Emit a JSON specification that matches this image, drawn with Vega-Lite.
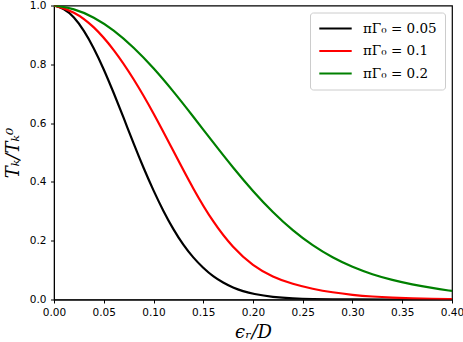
{
  "$schema": "https://vega.github.io/schema/vega-lite/v6.json",
  "autosize": "none",
  "width": 398,
  "height": 294,
  "padding": {"left": 54, "top": 5.5, "right": 11, "bottom": 42.5},
  "background": "white",
  "config": {
    "view": {"stroke": "black", "strokeWidth": 1.2},
    "axis": {"grid": false, "domainColor": "black", "tickColor": "black", "labelColor": "black", "labelFont": "DejaVu Sans", "labelFontSize": 10.5, "labelFlush": false, "labelOverlap": false, "tickSize": 3.5, "titleColor": "black", "titleFont": "DejaVu Serif", "titleFontStyle": "italic", "titleFontWeight": "normal", "titleFontSize": 18}
  },
  "data": {"values": [
    {"x": 0, "y": 1, "s": "πΓ₀ = 0.05"},
    {"x": 0.01, "y": 0.990, "s": "πΓ₀ = 0.05"},
    {"x": 0.02, "y": 0.962, "s": "πΓ₀ = 0.05"},
    {"x": 0.03, "y": 0.916, "s": "πΓ₀ = 0.05"},
    {"x": 0.04, "y": 0.856, "s": "πΓ₀ = 0.05"},
    {"x": 0.05, "y": 0.784, "s": "πΓ₀ = 0.05"},
    {"x": 0.06, "y": 0.703, "s": "πΓ₀ = 0.05"},
    {"x": 0.07, "y": 0.618, "s": "πΓ₀ = 0.05"},
    {"x": 0.08, "y": 0.530, "s": "πΓ₀ = 0.05"},
    {"x": 0.09, "y": 0.447, "s": "πΓ₀ = 0.05"},
    {"x": 0.10, "y": 0.370, "s": "πΓ₀ = 0.05"},
    {"x": 0.11, "y": 0.300, "s": "πΓ₀ = 0.05"},
    {"x": 0.12, "y": 0.238, "s": "πΓ₀ = 0.05"},
    {"x": 0.13, "y": 0.185, "s": "πΓ₀ = 0.05"},
    {"x": 0.14, "y": 0.142, "s": "πΓ₀ = 0.05"},
    {"x": 0.15, "y": 0.107, "s": "πΓ₀ = 0.05"},
    {"x": 0.16, "y": 0.078, "s": "πΓ₀ = 0.05"},
    {"x": 0.17, "y": 0.057, "s": "πΓ₀ = 0.05"},
    {"x": 0.18, "y": 0.040, "s": "πΓ₀ = 0.05"},
    {"x": 0.19, "y": 0.028, "s": "πΓ₀ = 0.05"},
    {"x": 0.20, "y": 0.019, "s": "πΓ₀ = 0.05"},
    {"x": 0.22, "y": 0.008, "s": "πΓ₀ = 0.05"},
    {"x": 0.24, "y": 0.0035, "s": "πΓ₀ = 0.05"},
    {"x": 0.26, "y": 0.0013, "s": "πΓ₀ = 0.05"},
    {"x": 0.28, "y": 0.0004, "s": "πΓ₀ = 0.05"},
    {"x": 0.30, "y": 0.0001, "s": "πΓ₀ = 0.05"},
    {"x": 0.34, "y": 0, "s": "πΓ₀ = 0.05"},
    {"x": 0.40, "y": 0, "s": "πΓ₀ = 0.05"},
    {"x": 0, "y": 1, "s": "πΓ₀ = 0.1"},
    {"x": 0.02, "y": 0.981, "s": "πΓ₀ = 0.1"},
    {"x": 0.04, "y": 0.930, "s": "πΓ₀ = 0.1"},
    {"x": 0.06, "y": 0.852, "s": "πΓ₀ = 0.1"},
    {"x": 0.08, "y": 0.752, "s": "πΓ₀ = 0.1"},
    {"x": 0.10, "y": 0.635, "s": "πΓ₀ = 0.1"},
    {"x": 0.12, "y": 0.505, "s": "πΓ₀ = 0.1"},
    {"x": 0.14, "y": 0.375, "s": "πΓ₀ = 0.1"},
    {"x": 0.16, "y": 0.262, "s": "πΓ₀ = 0.1"},
    {"x": 0.18, "y": 0.175, "s": "πΓ₀ = 0.1"},
    {"x": 0.20, "y": 0.114, "s": "πΓ₀ = 0.1"},
    {"x": 0.22, "y": 0.076, "s": "πΓ₀ = 0.1"},
    {"x": 0.24, "y": 0.052, "s": "πΓ₀ = 0.1"},
    {"x": 0.26, "y": 0.036, "s": "πΓ₀ = 0.1"},
    {"x": 0.28, "y": 0.024, "s": "πΓ₀ = 0.1"},
    {"x": 0.30, "y": 0.0155, "s": "πΓ₀ = 0.1"},
    {"x": 0.32, "y": 0.0098, "s": "πΓ₀ = 0.1"},
    {"x": 0.34, "y": 0.0062, "s": "πΓ₀ = 0.1"},
    {"x": 0.36, "y": 0.0039, "s": "πΓ₀ = 0.1"},
    {"x": 0.38, "y": 0.0025, "s": "πΓ₀ = 0.1"},
    {"x": 0.40, "y": 0.0016, "s": "πΓ₀ = 0.1"},
    {"x": 0, "y": 1, "s": "πΓ₀ = 0.2"},
    {"x": 0.02, "y": 0.990, "s": "πΓ₀ = 0.2"},
    {"x": 0.04, "y": 0.961, "s": "πΓ₀ = 0.2"},
    {"x": 0.06, "y": 0.917, "s": "πΓ₀ = 0.2"},
    {"x": 0.08, "y": 0.858, "s": "πΓ₀ = 0.2"},
    {"x": 0.10, "y": 0.788, "s": "πΓ₀ = 0.2"},
    {"x": 0.12, "y": 0.708, "s": "πΓ₀ = 0.2"},
    {"x": 0.14, "y": 0.622, "s": "πΓ₀ = 0.2"},
    {"x": 0.16, "y": 0.534, "s": "πΓ₀ = 0.2"},
    {"x": 0.18, "y": 0.448, "s": "πΓ₀ = 0.2"},
    {"x": 0.20, "y": 0.368, "s": "πΓ₀ = 0.2"},
    {"x": 0.22, "y": 0.296, "s": "πΓ₀ = 0.2"},
    {"x": 0.24, "y": 0.234, "s": "πΓ₀ = 0.2"},
    {"x": 0.26, "y": 0.183, "s": "πΓ₀ = 0.2"},
    {"x": 0.28, "y": 0.142, "s": "πΓ₀ = 0.2"},
    {"x": 0.30, "y": 0.110, "s": "πΓ₀ = 0.2"},
    {"x": 0.32, "y": 0.085, "s": "πΓ₀ = 0.2"},
    {"x": 0.34, "y": 0.066, "s": "πΓ₀ = 0.2"},
    {"x": 0.36, "y": 0.051, "s": "πΓ₀ = 0.2"},
    {"x": 0.38, "y": 0.039, "s": "πΓ₀ = 0.2"},
    {"x": 0.40, "y": 0.029, "s": "πΓ₀ = 0.2"}
  ]},
  "mark": {"type": "line", "strokeWidth": 2.2, "interpolate": "basis", "clip": true},
  "encoding": {
    "x": {"field": "x", "type": "quantitative", "scale": {"domain": [0, 0.4], "nice": false, "zero": false},
      "axis": {"title": "ϵᵣ/D", "values": [0, 0.05, 0.1, 0.15, 0.2, 0.25, 0.3, 0.35, 0.4], "format": ".2f", "titlePadding": 5, "labelPadding": 4.5}},
    "y": {"field": "y", "type": "quantitative", "scale": {"domain": [0, 1], "nice": false},
      "axis": {"title": "Tₖ/Tₖ⁰", "values": [0, 0.2, 0.4, 0.6, 0.8, 1.0], "format": ".1f", "titlePadding": 7, "labelPadding": 4.5}},
    "color": {"field": "s", "type": "nominal",
      "scale": {"domain": ["πΓ₀ = 0.05", "πΓ₀ = 0.1", "πΓ₀ = 0.2"], "range": ["#000000", "#ff0000", "#008000"]},
      "legend": {"title": null, "orient": "top-right", "offset": 7, "symbolType": "stroke", "symbolSize": 1050, "symbolStrokeWidth": 2.2, "labelFont": "DejaVu Serif", "labelFontSize": 13.5, "labelColor": "black", "clipHeight": 16, "rowPadding": 6.5, "padding": 8, "strokeColor": "#cccccc", "fillColor": "white", "cornerRadius": 3, "labelOffset": 10}}
  }
}
